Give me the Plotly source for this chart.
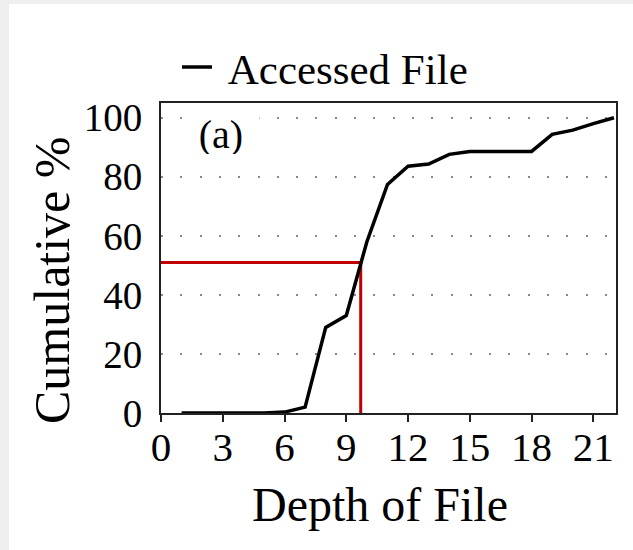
import plotly.graph_objects as go

# Data
depth = [1, 2, 3, 4, 5, 6, 7, 8, 9, 10, 11, 12, 13, 14, 15, 16, 17, 18, 19, 20, 21, 22]
cumulative = [0, 0, 0, 0, 0, 0.3, 2, 29, 33, 58, 77.4, 83.6, 84.3, 87.6, 88.6, 88.6, 88.6, 88.6, 94.4, 95.8, 98, 100]

median_x = [0, 9.7, 9.7]
median_y = [51, 51, 0]

x_ticks = [0, 3, 6, 9, 12, 15, 18, 21]
y_ticks = [0, 20, 40, 60, 80, 100]

FONT = "Liberation Serif"

fig = go.Figure()
fig.add_trace(go.Scatter(x=median_x, y=median_y, mode="lines",
                         line=dict(color="#c00000", width=3),
                         showlegend=False, hoverinfo="skip"))
fig.add_trace(go.Scatter(x=depth, y=cumulative, mode="lines", name="\u00a0Accessed File",
                         line=dict(color="black", width=3.5)))

W, H = 633, 550
L, R, T, B = 161, 17, 103, 137
pw, ph = W - L - R, H - T - B

def px2x(px):
    return (px - L) / pw

def py2y(py):
    return (H - B - py) / ph

fig.update_layout(
    width=W, height=H,
    margin=dict(l=L, r=R, t=T, b=B),
    paper_bgcolor="white", plot_bgcolor="white",
    font=dict(family=FONT, color="black", size=40),
    showlegend=True,
    legend=dict(orientation="h", x=px2x(177), xanchor="left", y=py2y(67), yanchor="middle",
                font=dict(size=43, family=FONT), bgcolor="rgba(0,0,0,0)"),
    xaxis=dict(range=[0, 22.1], tickvals=x_ticks, ticks="outside", ticklen=7, tickwidth=2,
               tickcolor="#222", showline=True, linecolor="#222", linewidth=2, mirror=True,
               showgrid=False, zeroline=False, ticklabelstandoff=-10,
               tickfont=dict(size=41, family=FONT)),
    yaxis=dict(range=[0, 105], tickvals=y_ticks, ticks="", showline=True, linecolor="#222",
               linewidth=2, mirror=True, showgrid=True, gridcolor="#888", gridwidth=1.5,
               griddash="2px,17.3px", zeroline=False, ticklabelstandoff=9,
               tickfont=dict(size=39, family=FONT)),
    annotations=[
        dict(text="(a)", x=px2x(221), y=py2y(134), xref="paper", yref="paper",
             xanchor="center", yanchor="middle", width=76, height=40,
             showarrow=False, font=dict(size=40, family=FONT), bgcolor="white", borderpad=0),
        dict(text="Depth of File", x=px2x(380), y=py2y(504), xref="paper", yref="paper",
             xanchor="center", yanchor="middle",
             showarrow=False, font=dict(size=48, family=FONT)),
        dict(text="Cumulative %", x=px2x(52), y=py2y(281), xref="paper", yref="paper",
             showarrow=False, textangle=-90, font=dict(size=50, family=FONT),
             xanchor="center", yanchor="middle"),
    ],
    shapes=[
        dict(type="rect", xref="paper", yref="paper", x0=px2x(-5), x1=px2x(9),
             y0=py2y(560), y1=py2y(-5), fillcolor="#efefef", line=dict(width=0), layer="below"),
        dict(type="rect", xref="paper", yref="paper", x0=px2x(-5), x1=px2x(640),
             y0=py2y(4), y1=py2y(-5), fillcolor="#efefef", line=dict(width=0), layer="below"),
    ],
)

fig.write_html("out.html", config={"displayModeBar": False},
               post_script="document.body.style.margin='0';document.body.style.overflow='hidden';")
